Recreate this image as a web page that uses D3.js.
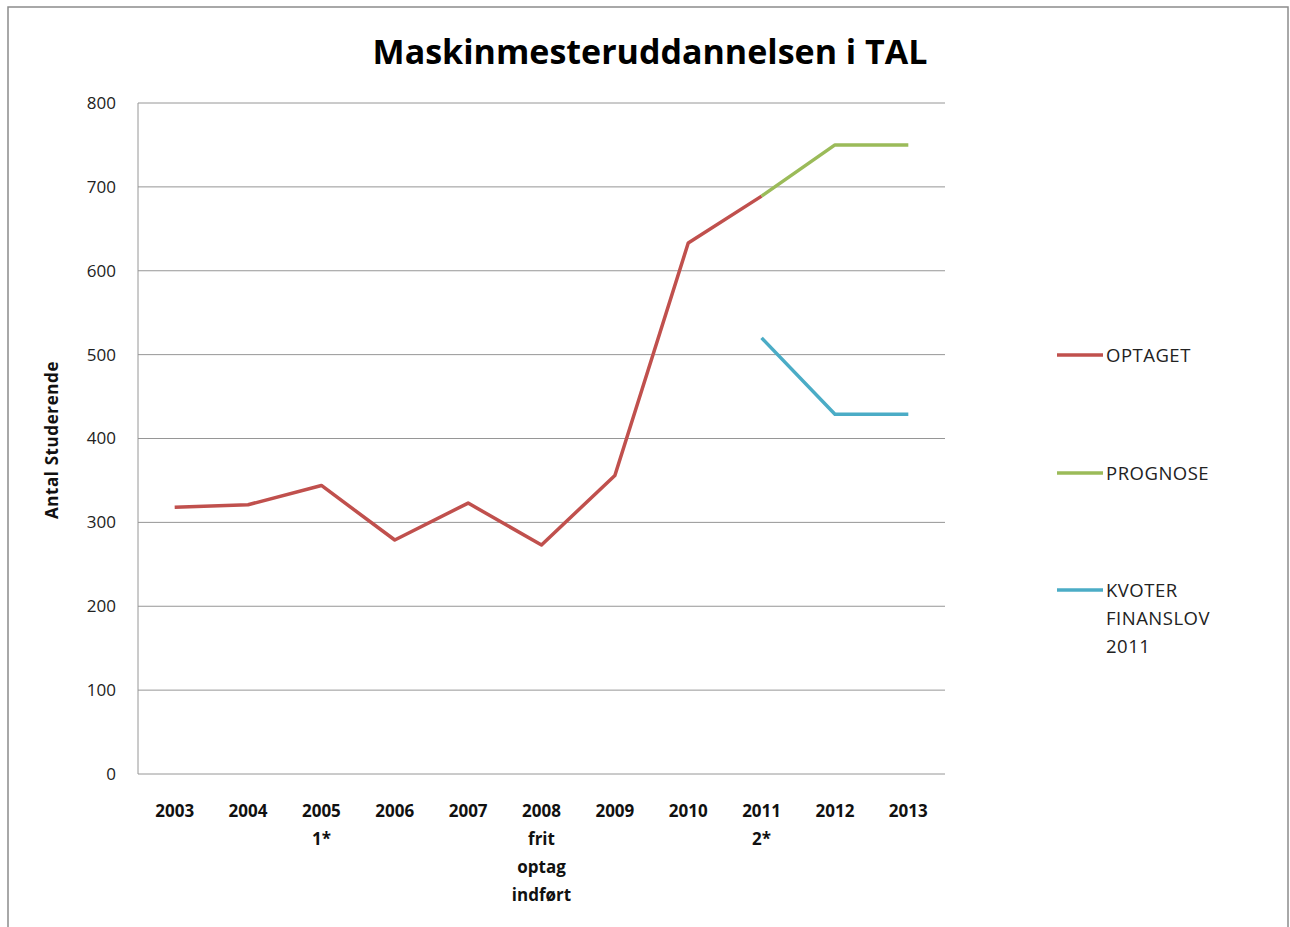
<!DOCTYPE html>
<html>
<head>
<meta charset="utf-8">
<script src="https://cdnjs.cloudflare.com/ajax/libs/d3/7.8.5/d3.min.js"></script>
<style>
  body { margin: 0; background: #fff; }
  svg { font-family: "Open Sans", "Noto Sans", sans-serif; }
</style>
</head>
<body>
<svg id="chart" width="1290" height="927"></svg>
<script>
var categories = ['2003', '2004', '2005', '2006', '2007', '2008', '2009', '2010', '2011', '2012', '2013'];
var catLabels = [['2003'], ['2004'], ['2005', '1*'], ['2006'], ['2007'], ['2008', 'frit', 'optag', 'indført'], ['2009'], ['2010'], ['2011', '2*'], ['2012'], ['2013']];
var optaget = [318, 321, 344, 279, 323, 273, 356, 633, 689, null, null];
var prognose = [null, null, null, null, null, null, null, null, 689, 750, 750];
var kvoter = [null, null, null, null, null, null, null, null, 520, 429, 429];
var yTicks = [0, 100, 200, 300, 400, 500, 600, 700, 800];

var series = [
    {name: ['OPTAGET'], values: optaget, color: '#c0504d', ly: 355},
    {name: ['PROGNOSE'], values: prognose, color: '#9bbb59', ly: 473},
    {name: ['KVOTER', 'FINANSLOV', '2011'], values: kvoter, color: '#4bacc6', ly: 590}
];

(function () {
    var svg = d3.select('#chart');

    // outer frame
    svg.append('rect').attr('x', 8).attr('y', 7).attr('width', 1280).attr('height', 930)
        .attr('fill', '#fff').attr('stroke', '#8c8c8c').attr('stroke-width', 1.5);

    var pLeft = 138, pRight = 945, pTop = 103, pBottom = 774;

    var x = d3.scaleBand().domain(categories).range([pLeft, pRight]);
    var y = d3.scaleLinear().domain([0, 800]).range([pBottom, pTop]);

    // gridlines
    svg.append('g').selectAll('line').data(yTicks).enter().append('line')
        .attr('x1', pLeft).attr('x2', pRight)
        .attr('y1', d => y(d)).attr('y2', d => y(d))
        .attr('stroke', '#969696').attr('stroke-width', 1);

    // y axis line
    svg.append('line').attr('x1', pLeft).attr('x2', pLeft).attr('y1', pTop).attr('y2', pBottom)
        .attr('stroke', '#969696');

    // y tick labels
    svg.append('g').selectAll('text').data(yTicks).enter().append('text')
        .attr('x', 116).attr('y', d => y(d)).attr('dy', '0.35em')
        .attr('text-anchor', 'end').attr('font-size', 17).attr('fill', '#222')
        .text(d => d);

    // x labels
    var xl = svg.append('g').selectAll('text').data(categories).enter().append('text')
        .attr('x', d => x(d) + x.bandwidth() / 2).attr('y', 817)
        .attr('text-anchor', 'middle').attr('font-size', 17).attr('font-weight', 'bold').attr('fill', '#111');
    xl.selectAll('tspan').data((d, i) => catLabels[i]).enter().append('tspan')
        .attr('x', function () { return d3.select(this.parentNode).attr('x'); })
        .attr('dy', (d, i) => i === 0 ? 0 : 28)
        .text(d => d);

    // axis title
    svg.append('text').attr('transform', 'translate(58,440) rotate(-90)')
        .attr('text-anchor', 'middle').attr('font-size', 17).attr('font-weight', 'bold').attr('fill', '#111')
        .attr('letter-spacing', 0.6)
        .text('Antal  Studerende');

    // title
    svg.append('text').attr('x', 650).attr('y', 64).attr('text-anchor', 'middle')
        .attr('font-size', 34).attr('font-weight', 'bold').attr('fill', '#000')
        .text('Maskinmesteruddannelsen i TAL');

    // lines
    var line = d3.line()
        .defined(d => d.v != null)
        .x(d => x(d.c) + x.bandwidth() / 2)
        .y(d => y(d.v));

    series.forEach(function (s) {
        var pts = categories.map((c, i) => ({c: c, v: s.values[i]}));
        svg.append('path').datum(pts).attr('d', line)
            .attr('fill', 'none').attr('stroke', s.color).attr('stroke-width', 3.5)
            .attr('stroke-linejoin', 'round');
    });

    // legend
    var lg = svg.append('g').selectAll('g').data(series).enter().append('g');
    lg.append('line').attr('x1', 1057).attr('x2', 1103)
        .attr('y1', d => d.ly).attr('y2', d => d.ly)
        .attr('stroke', d => d.color).attr('stroke-width', 3.5);
    var lt = lg.append('text').attr('x', 1106).attr('y', d => d.ly + 7)
        .attr('font-size', 18.5).attr('fill', '#222').attr('letter-spacing', 0.5);
    lt.selectAll('tspan').data(d => d.name).enter().append('tspan')
        .attr('x', 1106).attr('dy', (d, i) => i === 0 ? 0 : 28).text(d => d);
})();
</script>
</body>
</html>
